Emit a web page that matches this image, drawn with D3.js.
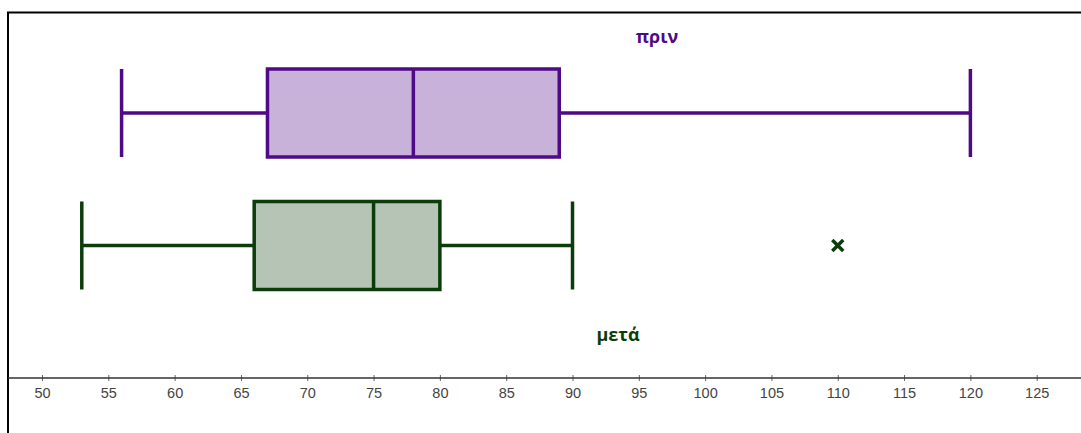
<!DOCTYPE html>
<html>
<head>
<meta charset="utf-8">
<script src="https://cdn.jsdelivr.net/npm/d3@7"></script>
<style>
  body { margin: 0; background: #fff; }
  svg { display: block; }
</style>
</head>
<body>
<div id="chart"></div>
<script>
// the two groups, five-number summaries
var groups = ["πριν", "μετά"];
var mins = [56, 53];
var q1s = [67, 66];
var medians = [78, 75];
var q3s = [89, 80];
var maxs = [120, 90];
var outliers = [[], [110]];
var tickValues = [50, 55, 60, 65, 70, 75, 80, 85, 90, 95, 100, 105, 110, 115, 120, 125];

var strokes = ["#4f0a87", "#0b3d0b"];
var fills = ["#c8b2d9", "#b5c4b5"];

var width = 1081, height = 433;
var svg = d3.select("#chart").append("svg")
    .attr("width", width)
    .attr("height", height);

var x = d3.scaleLinear().domain([50, 125]).range([42, 1036.7]);
// box centre rows
var y = d3.scalePoint().domain(groups).range([113, 245.5]);
var boxH = 88;

// frame (top and left only show)
svg.append("path")
    .attr("d", "M8,433 V12.5 H1081")
    .attr("fill", "none")
    .attr("stroke", "#000")
    .attr("stroke-width", 2);

// axis
var axisY = 378;
var axis = d3.axisBottom(x).tickValues(tickValues).tickSize(4).tickSizeOuter(0);
var ag = svg.append("g")
    .attr("transform", "translate(0," + axisY + ")")
    .call(axis);
ag.select(".domain").remove();
ag.append("line")
    .attr("x1", 8).attr("x2", 1081)
    .attr("stroke", "#333").attr("stroke-width", 1.5);
ag.selectAll(".tick line")
    .attr("y1", -3).attr("y2", 3)
    .attr("stroke", "#666");
ag.selectAll(".tick text")
    .attr("y", 10)
    .attr("fill", "#444")
    .style("font-family", "Liberation Sans, Arial, sans-serif")
    .style("font-size", "14.5px");

groups.forEach(function(g, i) {
    var cy = y(g);
    var gg = svg.append("g")
        .attr("stroke", strokes[i])
        .attr("stroke-width", 3.5)
        .attr("fill", "none");
    // whiskers
    gg.append("line").attr("x1", x(mins[i])).attr("x2", x(q1s[i])).attr("y1", cy).attr("y2", cy);
    gg.append("line").attr("x1", x(q3s[i])).attr("x2", x(maxs[i])).attr("y1", cy).attr("y2", cy);
    [mins[i], maxs[i]].forEach(function(v) {
        gg.append("line")
            .attr("x1", x(v)).attr("x2", x(v))
            .attr("y1", cy - boxH / 2).attr("y2", cy + boxH / 2);
    });
    // box
    gg.append("rect")
        .attr("x", x(q1s[i]))
        .attr("y", cy - boxH / 2)
        .attr("width", x(q3s[i]) - x(q1s[i]))
        .attr("height", boxH)
        .attr("fill", fills[i]);
    gg.append("line")
        .attr("x1", x(medians[i])).attr("x2", x(medians[i]))
        .attr("y1", cy - boxH / 2).attr("y2", cy + boxH / 2);
    // outliers as crosses
    outliers[i].forEach(function(v) {
        var s = 5.5;
        gg.append("path")
            .attr("d", "M" + (x(v) - s) + "," + (cy - s) + "L" + (x(v) + s) + "," + (cy + s) +
                       "M" + (x(v) - s) + "," + (cy + s) + "L" + (x(v) + s) + "," + (cy - s))
            .attr("stroke-width", 3.5);
    });
});

// group labels
svg.append("text")
    .attr("x", 657).attr("y", 43)
    .attr("text-anchor", "middle")
    .attr("fill", strokes[0])
    .style("font-family", "Open Sans, DejaVu Sans, sans-serif")
    .style("font-weight", "bold")
    .style("font-size", "18px")
    .text(groups[0]);
svg.append("text")
    .attr("x", 618).attr("y", 341)
    .attr("text-anchor", "middle")
    .attr("fill", strokes[1])
    .style("font-family", "Open Sans, DejaVu Sans, sans-serif")
    .style("font-weight", "bold")
    .style("font-size", "18px")
    .text(groups[1]);
</script>
</body>
</html>
